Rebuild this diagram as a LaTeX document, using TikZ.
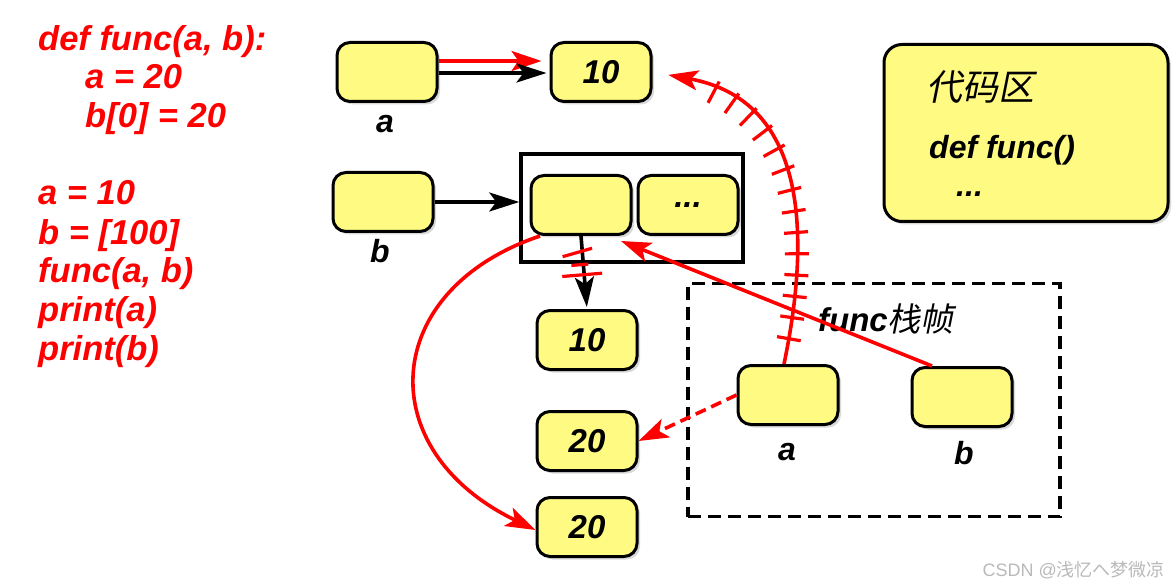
\documentclass[tikz,border=0pt]{standalone}
\usepackage{fontspec}
\setmainfont{Liberation Sans}
\newfontfamily\cjk{Noto Sans CJK SC}
\newfontfamily\cjkit[FakeSlant=0.2]{Noto Sans CJK SC}
\usetikzlibrary{arrows.meta,shadows,decorations.markings}
\definecolor{boxyellow}{RGB}{255,250,130}
\definecolor{wmgray}{RGB}{185,185,185}
\begin{document}
\begin{tikzpicture}[x=1pt,y=-1pt,
  cell/.style={draw=black, line width=3pt, fill=boxyellow, rounded corners=13pt,
    minimum width=100pt, minimum height=59pt, inner sep=0pt,
    drop shadow={opacity=0.3, shadow xshift=3pt, shadow yshift=-3pt},
    font=\fontsize{33}{33}\selectfont\bfseries\itshape},
  lbl/.style={anchor=base, inner sep=0pt, font=\fontsize{32}{32}\selectfont\bfseries\itshape},
  codeline/.style={anchor=base west, inner sep=0pt, text=red, font=\fontsize{34.5}{34.5}\selectfont\bfseries\itshape},
  blk/.style={-{Stealth[length=30pt,width=19pt,inset=7pt]}, line width=3.6pt, black},
  rd/.style={-{Stealth[length=30pt,width=20pt,inset=7pt]}, line width=3.6pt, red},
  tick/.style={arrows=-, shorten >=0pt, shorten <=0pt, solid, red, line width=3.2pt},
]
\useasboundingbox (0,0) rectangle (1173,588);

% code on the left
\node[codeline] (c1) at (38,51) {def func(a, b):};
\node[codeline] (c2) at (85,89) {a = 20};
\node[codeline] (c3) at (85,128) {b[0] = 20};
\node[codeline] (c4) at (38,205) {a = 10};
\node[codeline] (c5) at (38,244) {b = [100]};
\node[codeline] (c6) at (38,283) {func(a, b)};
\node[codeline] (c7) at (38,321) {print(a)};
\node[codeline] (c8) at (38,360) {print(b)};

% global variables
\node[cell] (va) at (387,72) {};
\node[lbl] (la) at (385,133) {a};
\node[cell] (t10) at (601,72) {10};
\node[cell] (vb) at (383,202) {};
\node[lbl] (lb) at (380,262) {b};

% list
\node[draw=black, line width=3.5pt, minimum width=222pt, minimum height=108pt, inner sep=0pt] (lst) at (632,208) {};
\node[cell] (l0) at (581,205) {};
\node[cell] (l1) at (688,205) {...};

% values
\node[cell] (m10) at (587,340) {10};
\node[cell] (m20) at (587,441) {20};
\node[cell] (b20) at (587,527) {20};

% func frame
\node[draw=black, line width=3.5pt, dash pattern=on 13pt off 7pt, minimum width=372pt, minimum height=233pt, inner sep=0pt] (fr) at (874,400) {};
\node[anchor=base, inner sep=0pt, font=\fontsize{33}{33}\selectfont\bfseries\itshape] (frt) at (886,331) {func{\cjkit\mdseries 栈帧}};
\node[cell] (fa) at (788,395) {};
\node[lbl] (lfa) at (787,460) {a};
\node[cell] (fb) at (962,397) {};
\node[lbl] (lfb) at (964,464) {b};

% code area
\node[cell, minimum width=284pt, minimum height=177pt, rounded corners=18pt] (cb) at (1026,133) {};
\node[anchor=base west, inner sep=0pt, font=\fontsize{36}{36}\selectfont] (cbt) at (926,101) {\cjkit 代码区};
\node[anchor=base west, inner sep=0pt, font=\fontsize{32}{32}\selectfont\bfseries\itshape] (cbd) at (929,159) {def func()};
\node[anchor=base west, inner sep=0pt, font=\fontsize{32}{32}\selectfont\bfseries\itshape] (cbe) at (956,197) {...};

% watermark
\node[anchor=base east, inner sep=0pt, text=wmgray, font=\fontsize{18}{18}\selectfont] (wm) at (1165,576) {CSDN @{\cjk 浅忆へ梦微凉}};

% connectors
\draw[rd, shorten >=8pt] ([yshift=11pt]va.east) -- ([yshift=11pt]t10.west);
\draw[blk, shorten >=3pt] ([yshift=-1pt]va.east) -- ([yshift=-1pt]t10.west);
\draw[blk] (vb.east) -- (vb.east -| lst.west);
\draw[blk, shorten >=2pt, postaction={decorate}, decoration={markings,
   mark=at position 0.22 with {\draw[tick] (3pt,-20pt) -- (-3pt,10pt);},
   mark=at position 0.39 with {\draw[tick] (0,-12pt) -- (0,5pt);},
   mark=at position 0.53 with {\draw[tick] (0,-22pt) -- (0,18pt);}}]
  (l0.south) -- (m10.north);
\draw[rd] ([xshift=-30pt]fb.north) -- ([xshift=40pt,yshift=-5pt]l0.south);
\draw[rd] ([xshift=-41pt]l0.south) .. controls (380,290) and (370,450) .. ([yshift=-3pt]b20.west);
\draw[rd, dash pattern=on 11pt off 6pt] (fa.west) -- (m20.east);
\draw[rd, shorten >=16pt, postaction={decorate}, decoration={markings,
   mark=between positions 0.07 and 0.83 step 0.058 with {\draw[tick] (0,-12pt) -- (0,12pt);}}]
  ([xshift=-4pt]fa.north) .. controls (812,230) and (805,100) .. (t10.east);
\end{tikzpicture}
\end{document}
